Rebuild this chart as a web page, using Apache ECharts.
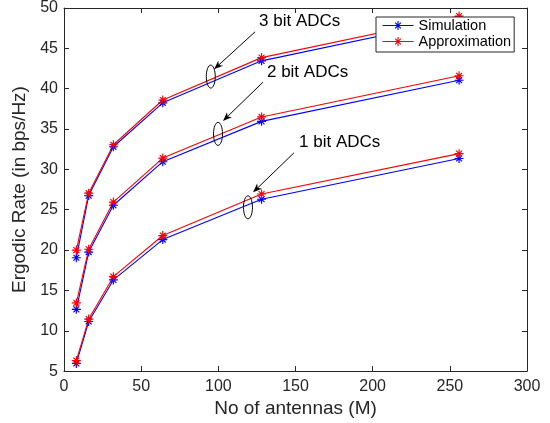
<!DOCTYPE html>
<html>
<head>
<meta charset="utf-8">
<script src="https://cdn.jsdelivr.net/npm/echarts@6/dist/echarts.min.js"></script>
<style>html,body{margin:0;padding:0;background:#fff}#c{width:550px;height:423px}</style>
</head>
<body>
<div id="c"></div>
<script>
// ---- data ----
const antennas = [8, 16, 32, 64, 128, 256];
const sim1 = [5.95, 11.15, 16.3, 21.3, 26.3, 31.35];
const apx1 = [6.3, 11.45, 16.7, 21.8, 26.95, 31.95];
const sim2 = [12.65, 19.75, 25.55, 30.95, 35.95, 41.05];
const apx2 = [13.45, 20.1, 25.95, 31.4, 36.5, 41.6];
const sim3 = [19.05, 26.75, 32.8, 38.25, 43.45, 48.6];
const apx3 = [20.0, 27.05, 33.05, 38.6, 43.85, 49.0];
const xTicks = [0, 50, 100, 150, 200, 250, 300];
const yTicks = [5, 10, 15, 20, 25, 30, 35, 40, 45, 50];
const seriesNames = ['Simulation', 'Approximation'];
const adcLabels = ['1 bit ADCs', '2 bit ADCs', '3 bit ADCs'];

// annotation anchors in data coordinates
const annotations = [
  { text: adcLabels[2], textAt: [126.4, 48.3], tail: [123.8, 47.05], head: [97.2, 42.4], ellipse: [95.1, 41.5] },
  { text: adcLabels[1], textAt: [131.5, 42.0], tail: [128.9, 40.8], head: [103.0, 36.0], ellipse: [99.8, 34.4] },
  { text: adcLabels[0], textAt: [152.3, 33.3], tail: [149.0, 32.05], head: [122.5, 27.15], ellipse: [119.2, 25.3] }
];

const star = 'path://M0 8.7L20 8.7L20 11.3L0 11.3Z M8.7 0L11.3 0L11.3 20L8.7 20Z ' +
  'M2.55 4.39L4.39 2.55L17.45 15.61L15.61 17.45Z M2.55 15.61L15.61 2.55L17.45 4.39L4.39 17.45Z';

const BLUE = '#0000ff', RED = '#ff0000', AX = '#262626';
const FONT = '"Liberation Sans", Arial, Helvetica, sans-serif';

function mk(name, vals, color) {
  return {
    name: name, type: 'line', xAxisIndex: 0, yAxisIndex: 0,
    data: antennas.map((m, i) => [m, vals[i]]),
    symbol: star, symbolSize: 9, showSymbol: true,
    lineStyle: { color: color, width: 1.1 },
    itemStyle: { color: color },
    emphasis: { disabled: true }, animation: false
  };
}

const chart = echarts.init(document.getElementById('c'), null, { renderer: 'canvas' });
const axisCommon = {
  type: 'value', min: 0, max: 300, interval: 50,
  axisLine: { show: true, onZero: false, lineStyle: { color: AX, width: 1 } },
  axisTick: { show: true, inside: true, length: 5, lineStyle: { color: AX } },
  splitLine: { show: false }
};
chart.setOption({
  animation: false,
  textStyle: { fontFamily: FONT },
  grid: { left: 64, right: 23, top: 6, bottom: 51, containLabel: false },
  legend: {
    data: seriesNames, orient: 'vertical', left: 376, top: 17,
    backgroundColor: '#fff', borderColor: AX, borderWidth: 1,
    padding: [1, 3, 3, 6], itemGap: 1, itemWidth: 31, itemHeight: 11,
    lineStyle: { width: 1 },
    textStyle: { fontSize: 14.5, color: '#000', fontFamily: FONT },
    z: 10
  },
  xAxis: [
    Object.assign({}, axisCommon, {
      position: 'bottom', name: 'No of antennas (M)', nameLocation: 'middle', nameGap: 25,
      nameTextStyle: { fontSize: 19, color: AX, fontFamily: FONT },
      axisLabel: { fontSize: 16, color: AX, margin: 7, fontFamily: FONT, customValues: xTicks }
    }),
    Object.assign({}, axisCommon, { position: 'top', axisLabel: { show: false } })
  ],
  yAxis: [
    Object.assign({}, axisCommon, {
      min: 5, max: 50, interval: 5, position: 'left',
      name: 'Ergodic Rate (in bps/Hz)', nameLocation: 'middle', nameGap: 29,
      nameTextStyle: { fontSize: 19, color: AX, fontFamily: FONT },
      axisLabel: { fontSize: 16, color: AX, margin: 6, fontFamily: FONT, customValues: yTicks }
    }),
    Object.assign({}, axisCommon, { min: 5, max: 50, interval: 5, position: 'right', axisLabel: { show: false } })
  ],
  series: [
    mk(seriesNames[0], sim1, BLUE), mk(seriesNames[1], apx1, RED),
    mk(seriesNames[0], sim2, BLUE), mk(seriesNames[1], apx2, RED),
    mk(seriesNames[0], sim3, BLUE), mk(seriesNames[1], apx3, RED)
  ]
});

function px(p) { return chart.convertToPixel({ xAxisIndex: 0, yAxisIndex: 0 }, p); }
const g = [];
annotations.forEach(a => {
  const t = px(a.textAt), s = px(a.tail), h = px(a.head), e = px(a.ellipse);
  g.push({ type: 'text', x: t[0], y: t[1], style: { text: a.text, fontSize: 17, fontFamily: FONT, fill: '#000', verticalAlign: 'middle', align: 'left' }, z: 20 });
  g.push({ type: 'ellipse', shape: { cx: e[0], cy: e[1], rx: 4.5, ry: 11.5 }, style: { fill: null, stroke: '#000', lineWidth: 1 }, z: 20 });
  const dx = h[0] - s[0], dy = h[1] - s[1], L = Math.hypot(dx, dy);
  const ux = dx / L, uy = dy / L, nx = -uy, ny = ux;
  const hl = 9, hw = 3.5;
  const bx = h[0] - ux * hl, by = h[1] - uy * hl;
  g.push({ type: 'line', shape: { x1: s[0], y1: s[1], x2: bx + ux * 3, y2: by + uy * 3 }, style: { stroke: '#000', lineWidth: 1 }, z: 20 });
  g.push({ type: 'polygon', shape: { points: [
    [h[0], h[1]], [bx + nx * hw, by + ny * hw], [bx + ux * 2.5, by + uy * 2.5], [bx - nx * hw, by - ny * hw]
  ] }, style: { fill: '#000' }, z: 20 });
});
chart.setOption({ graphic: { elements: g } });
</script>
</body>
</html>
